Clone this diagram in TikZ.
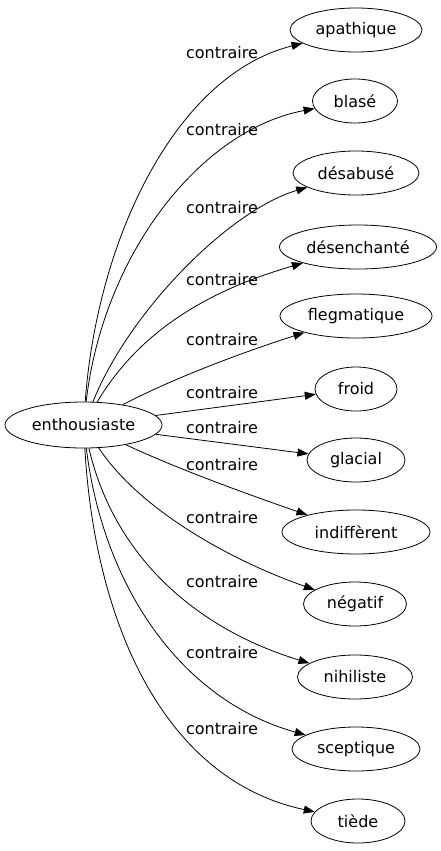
\documentclass[tikz,border=0pt]{standalone}
\usepackage{fontspec}
\setmainfont{DejaVu Sans}
\usetikzlibrary{shapes.geometric,arrows.meta}

\begin{document}
\begin{tikzpicture}
	[x=1pt,y=-1pt, word/.style={draw, ellipse, line width=0.8pt, inner sep=0pt, minimum height=44pt, font=\fontsize{16}{19}\selectfont}, rel/.style={inner sep=1pt, font=\fontsize{16}{19}\selectfont}, arr/.style={-{Triangle[length=11pt,width=8pt]}, line width=0.8pt}]
	\useasboundingbox (0,0) rectangle (441,851);
	% source word
	\node[word, minimum width=157pt, minimum height=46pt] (enth) at (83.5,425) {enthousiaste};
	% opposite words
	\node[word, minimum width=132pt] (apathique) at (356,30) {apathique};
	\node[word, minimum width=85pt] (blase) at (355,101) {blasé};
	\node[word, minimum width=126pt] (desabuse) at (356,173) {désabusé};
	\node[word, minimum width=157pt] (desenchante) at (358,247) {désenchanté};
	\node[word, minimum width=152pt] (flegmatique) at (356,316) {flegmatique};
	\node[word, minimum width=82pt] (froid) at (356,389) {froid};
	\node[word, minimum width=98pt] (glacial) at (356,460) {glacial};
	\node[word, minimum width=148pt] (indifferent) at (356,532) {indiffèrent};
	\node[word, minimum width=103pt] (negatif) at (355,604) {négatif};
	\node[word, minimum width=115pt] (nihiliste) at (355,677) {nihiliste};
	\node[word, minimum width=128pt] (sceptique) at (356,749) {sceptique};
	\node[word, minimum width=94pt] (tiede) at (358,821) {tiède};
	% edges
	\draw[arr] (enth) .. controls (97,240) and (175,75) .. (apathique);
	\draw[arr] (enth) .. controls (103,255) and (200,130) .. (blase);
	\draw[arr] (enth) .. controls (130,310) and (230,210) .. (desabuse);
	\draw[arr] (enth) .. controls (140,330) and (210,290) .. (desenchante);
	\draw[arr] (enth) .. controls (180,375) and (250,350) .. (flegmatique);
	\draw[arr] (enth) -- (froid);
	\draw[arr] (enth) -- (glacial);
	\draw[arr] (enth) .. controls (180,470) and (250,495) .. (indifferent);
	\draw[arr] (enth) .. controls (140,510) and (230,560) .. (negatif);
	\draw[arr] (enth) .. controls (115,560) and (200,630) .. (nihiliste);
	\draw[arr] (enth) .. controls (103,585) and (180,700) .. (sceptique);
	\draw[arr] (enth) .. controls (95,625) and (165,780) .. (tiede);
	% edge labels
	\node[rel] (l1) at (222,53) {contraire};
	\node[rel] (l2) at (222,130) {contraire};
	\node[rel] (l3) at (222,208) {contraire};
	\node[rel] (l4) at (222,280) {contraire};
	\node[rel] (l5) at (222,340) {contraire};
	\node[rel] (l6) at (222,393) {contraire};
	\node[rel] (l7) at (222,428) {contraire};
	\node[rel] (l8) at (222,465) {contraire};
	\node[rel] (l9) at (222,518) {contraire};
	\node[rel] (l10) at (222,582) {contraire};
	\node[rel] (l11) at (222,653) {contraire};
	\node[rel] (l12) at (222,729) {contraire};
\end{tikzpicture}
\end{document}
